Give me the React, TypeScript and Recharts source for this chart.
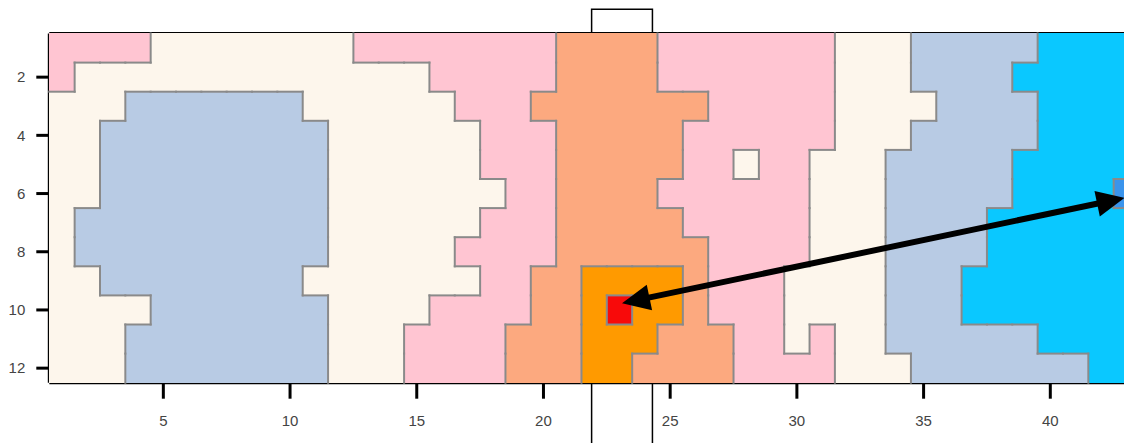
import { ScatterChart, Scatter, XAxis, YAxis, ReferenceArea, ReferenceLine } from 'recharts';

// grid of classes, one string per row (row 1 at top), one letter per column 1..43
const ROWS = [
  'PPPPCCCCCCCCPPPPPPPPSSSSPPPPPPPCCCBBBBBKKKK',
  'PCCCCCCCCCCCCCCPPPPPSSSSPPPPPPPCCCBBBBKKKKK',
  'CCCBBBBBBBCCCCCCPPPSSSSSSSPPPPPCCCCBBBBKKKK',
  'CCBBBBBBBBBCCCCCCPPPSSSSSPPPPPPCCCBBBBBKKKK',
  'CCBBBBBBBBBCCCCCCPPPSSSSSPPCPPCCCBBBBBKKKKK',
  'CCBBBBBBBBBCCCCCCCPPSSSSPPPPPPCCCBBBBBKKKKD',
  'CBBBBBBBBBBCCCCCCPPPSSSSSPPPPPCCCBBBBKKKKKK',
  'CBBBBBBBBBBCCCCCPPPPSSSSSSPPPPCCCBBBBKKKKKK',
  'CCBBBBBBBBCCCCCCCPPSSOOOOSPPPCCCCBBBKKKKKKK',
  'CCCCBBBBBBBCCCCPPPPSSOROOSPPPCCCCBBBKKKKKKK',
  'CCCBBBBBBBBCCCPPPPSSSOOOSSSPPCPCCBBBBBBKKKK',
  'CCCBBBBBBBBCCCPPPPSSSOOSSSSPPPPCCCBBBBBBBKK',
];

const PALETTE: Record<string, string> = {
  P: '#ffc5d2',
  C: '#fdf6ec',
  B: '#b8cbe4',
  S: '#fca97f',
  O: '#ff9a00',
  R: '#f80a0a',
  K: '#0ac8ff',
  D: '#3a94ec',
};

const X_TICKS = [5, 10, 15, 20, 25, 30, 35, 40];
const Y_TICKS = [2, 4, 6, 8, 10, 12];

// double-headed arrow end points (data units)
const ARROW = [
  { x: 23.1, y: 9.77 },
  { x: 42.93, y: 6.15 },
];

// selection box drawn over the columns
const SEL_X = [21.9, 24.3];
const SEL_Y = [-0.33, 15.6];

const X_DOMAIN: [number, number] = [0.5, 43.5];
const Y_DOMAIN: [number, number] = [0.5, 12.5];

const CHART_W = 1131;
const CHART_H = 435;
const MARGIN = { top: 25.5, right: 0, bottom: 0, left: 0 };
const Y_AXIS_W = 41.3;
const X_AXIS_H = 60.3;
const PLOT_W = CHART_W - MARGIN.left - MARGIN.right - Y_AXIS_W;
const PLOT_H = CHART_H - MARGIN.top - MARGIN.bottom - X_AXIS_H;
const CELL_W = PLOT_W / (X_DOMAIN[1] - X_DOMAIN[0]);
const CELL_H = PLOT_H / (Y_DOMAIN[1] - Y_DOMAIN[0]);

const cells = ROWS.flatMap((row, r) =>
  row.split('').map((code, c) => ({ x: c + 1, y: r + 1, code })),
);

const codeAt = (x: number, y: number) => ROWS[y - 1]?.[x - 1];

const CellShape = (props: any) => {
  const { cx, cy, payload } = props;
  return (
    <rect
      x={cx - CELL_W / 2 - 0.5}
      y={cy - CELL_H / 2 - 0.5}
      width={CELL_W + 1}
      height={CELL_H + 1}
      fill={PALETTE[payload.code]}
      shapeRendering="crispEdges"
    />
  );
};

const BorderShape = (props: any) => {
  const { cx, cy, payload } = props;
  const right = codeAt(payload.x + 1, payload.y);
  const below = codeAt(payload.x, payload.y + 1);
  const x0 = cx - CELL_W / 2;
  const x1 = cx + CELL_W / 2;
  const y0 = cy - CELL_H / 2;
  const y1 = cy + CELL_H / 2;
  return (
    <g stroke="#8a8a8a" strokeWidth={2} strokeLinecap="square">
      {right && right !== payload.code && <line x1={x1} y1={y0} x2={x1} y2={y1} />}
      {below && below !== payload.code && <line x1={x0} y1={y1} x2={x1} y2={y1} />}
    </g>
  );
};

const ArrowLine = (props: any) => {
  const pts = props.points;
  if (!pts || pts.length < 2) return null;
  const [a, b] = pts;
  const len = Math.hypot(b.x - a.x, b.y - a.y);
  const ux = (b.x - a.x) / len;
  const uy = (b.y - a.y) / len;
  const headLen = 28;
  const half = 13;
  const head = (tx: number, ty: number, dx: number, dy: number) => {
    const bx = tx - dx * headLen;
    const by = ty - dy * headLen;
    return `${tx},${ty} ${bx - dy * half},${by + dx * half} ${bx + dy * half},${by - dx * half}`;
  };
  return (
    <g>
      <line
        x1={a.x + ux * headLen * 0.8}
        y1={a.y + uy * headLen * 0.8}
        x2={b.x - ux * headLen * 0.8}
        y2={b.y - uy * headLen * 0.8}
        stroke="#000"
        strokeWidth={6}
      />
      <polygon points={head(a.x, a.y, -ux, -uy)} fill="#000" />
      <polygon points={head(b.x, b.y, ux, uy)} fill="#000" />
    </g>
  );
};

const tickStyle = { fontSize: 15, fill: '#444' };

export default function App() {
  return (
    <div
      style={{
        position: 'absolute',
        left: 8,
        top: 8,
        width: 1116,
        height: CHART_H,
        overflow: 'hidden',
        fontFamily: '"Liberation Sans", Arial, sans-serif',
      }}
    >
      <ScatterChart width={CHART_W} height={CHART_H} margin={MARGIN}>
        <XAxis
          type="number"
          dataKey="x"
          domain={X_DOMAIN}
          ticks={X_TICKS}
          height={X_AXIS_H}
          axisLine={{ stroke: '#000', strokeWidth: 3 }}
          tickLine={{ stroke: '#000', strokeWidth: 3 }}
          tickSize={16}
          tickMargin={17}
          tick={tickStyle}
        />
        <YAxis
          type="number"
          dataKey="y"
          domain={Y_DOMAIN}
          reversed
          ticks={Y_TICKS}
          width={Y_AXIS_W}
          axisLine={{ stroke: '#000', strokeWidth: 3 }}
          tickLine={{ stroke: '#000', strokeWidth: 3 }}
          tickSize={13}
          tickMargin={11}
          tick={tickStyle}
        />
        <Scatter data={cells} shape={CellShape} isAnimationActive={false} />
        <Scatter data={cells} shape={BorderShape} isAnimationActive={false} />
        <ReferenceLine y={Y_DOMAIN[0]} stroke="#000" strokeWidth={3} ifOverflow="visible" />
        <ReferenceArea
          x1={SEL_X[0]}
          x2={SEL_X[1]}
          y1={SEL_Y[0]}
          y2={SEL_Y[1]}
          ifOverflow="visible"
          fill="none"
          stroke="#000"
          strokeWidth={1.5}
        />
        <Scatter data={ARROW} line={ArrowLine} shape={() => <g />} isAnimationActive={false} />
      </ScatterChart>
    </div>
  );
}
